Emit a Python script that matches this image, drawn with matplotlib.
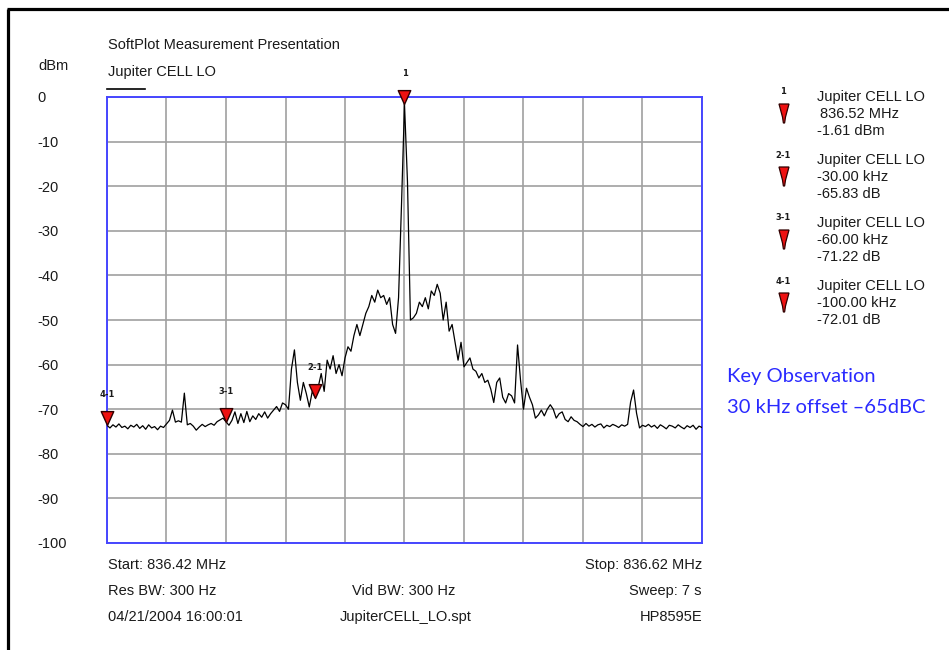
import numpy as np
import matplotlib
matplotlib.use('Agg')
import matplotlib.pyplot as plt
from matplotlib.path import Path
from matplotlib.patches import Polygon

# sweep settings
start_mhz = 836.42
stop_mhz = 836.62
center_mhz = 836.52

# trace, one point per kHz from start to stop (dBm)
trace_dbm = [
    -73.62, -74.2, -73.5, -74.0, -73.3, -74.1, -73.8, -74.4, -73.6, -74.0,
    -73.4, -74.3, -73.7, -74.5, -73.5, -74.2, -73.9, -74.6, -73.8, -74.1,
    -73.3, -72.5, -70.2, -72.9, -72.6, -72.9, -66.4, -73.5, -73.2, -73.8,
    -74.7, -74.0, -73.4, -73.9, -73.5, -73.2, -73.6, -72.8, -72.4, -72.0,
    -72.83, -73.6, -72.5, -70.6, -73.2, -71.0, -73.0, -70.5, -72.8, -71.5,
    -72.3, -71.0, -71.8, -70.6, -72.0, -71.0, -70.2, -69.4, -70.5, -68.6,
    -69.0, -70.0, -61.0, -56.7, -64.0, -68.0, -64.0, -66.5, -69.5, -66.0,
    -67.44, -65.0, -62.0, -66.0, -59.0, -61.0, -58.0, -62.0, -60.0, -62.5,
    -58.5, -56.0, -57.0, -53.5, -51.0, -53.5, -51.0, -48.5, -47.0, -44.5,
    -46.0, -43.3, -45.0, -44.5, -46.5, -45.0, -51.0, -53.0, -45.0, -24.0,
    -1.61,
    -19.0, -50.0, -49.5, -48.5, -46.0, -47.0, -45.0, -47.5, -43.5, -44.5,
    -42.0, -44.0, -50.0, -46.0, -52.5, -51.0, -55.0, -59.0, -55.0, -60.5,
    -59.5, -58.5, -61.0, -61.5, -63.0, -62.0, -64.0, -63.5, -65.5, -68.5,
    -64.0, -63.0, -67.3, -68.6, -66.5, -67.0, -68.6, -55.6, -63.5, -70.0,
    -65.3, -67.3, -69.0, -72.0, -71.3, -70.2, -71.5, -70.0, -69.0, -70.0,
    -72.0, -71.0, -70.6, -72.3, -72.8, -71.7, -72.5, -72.8, -73.4, -73.9,
    -73.2, -73.8, -73.4, -74.0, -73.5, -73.3, -74.2, -73.6, -73.9, -73.4,
    -73.7, -74.1, -73.5, -73.8, -73.4, -68.4, -65.7, -70.9, -74.2, -73.6,
    -73.9, -73.4, -74.0, -73.6, -74.3, -73.5, -73.9, -74.4, -73.6, -73.8,
    -74.2, -73.5, -74.0, -74.4, -73.7, -74.1, -73.6, -74.5, -73.8, -74.1,
]
freq_mhz = np.linspace(start_mhz, stop_mhz, len(trace_dbm))

# markers: 1 is the reference, the others are deltas from it
ref_level = -1.61
marker_names = ['1', '2-1', '3-1', '4-1']
marker_offset_khz = [0.0, -30.0, -60.0, -100.0]
marker_delta_db = [0.0, -65.83, -71.22, -72.01]

y_ticks = [0, -10, -20, -30, -40, -50, -60, -70, -80, -90, -100]

W, H = 949, 650
FONT = 'Liberation Sans'
TXT = '#1a1a1a'
BLUE = '#4646ff'

fig = plt.figure(figsize=(W / 100, H / 100), dpi=100)
fig.patch.set_facecolor('white')

ax = fig.add_axes([107 / W, (H - 543) / H, 595 / W, 446 / H])
ax.plot(freq_mhz, trace_dbm, color='black', lw=0.9, zorder=3)
ax.set_xlim(start_mhz, stop_mhz)
ax.set_ylim(-100, 0)
ax.set_xticks(np.linspace(start_mhz, stop_mhz, 11))
ax.set_xticklabels([])
ax.set_yticks(y_ticks)
ax.set_yticklabels([str(v) for v in y_ticks], fontsize=10.5, family=FONT, color=TXT)
for lab in ax.get_yticklabels():
    lab.set_horizontalalignment('left')
ax.tick_params(length=0)
ax.tick_params(axis='y', pad=50.4)
ax.grid(True, color='#a0a0a0', lw=1.2)
for sp in ax.spines.values():
    sp.set_color(BLUE)
    sp.set_linewidth(1.4)

# marker symbol on the trace: tip sits on the point
tri = Path([(-0.45, 1.0), (0.45, 1.0), (0.0, 0.0), (-0.45, 1.0)],
           [Path.MOVETO, Path.LINETO, Path.LINETO, Path.CLOSEPOLY])
for name, off, delta in zip(marker_names, marker_offset_khz, marker_delta_db):
    f = center_mhz + off / 1000.0
    lvl = ref_level + delta
    ax.plot([f], [lvl], marker=tri, ms=20, mfc='#ee1111', mec='#300000',
            mew=1.0, ls='none', clip_on=False, zorder=6)
    ax.annotate(name, (f, lvl), xytext=(0, 22), textcoords='offset points',
                ha='center', va='center', fontsize=6, fontweight='bold',
                family='DejaVu Sans', color=TXT, annotation_clip=False)

# overlay in pixel units for the text around the plot
ov = fig.add_axes([0, 0, 1, 1])
ov.set_xlim(0, W)
ov.set_ylim(H, 0)
ov.axis('off')
ov.patch.set_alpha(0)

ov.plot([8.5, 8.5], [8.5, H], color='black', lw=2.3, solid_capstyle='butt')
ov.plot([7, W], [8.5, 8.5], color='black', lw=2.3, solid_capstyle='butt')

kw = dict(fontsize=10.5, family=FONT, color=TXT, va='center')
ov.text(108, 45, 'SoftPlot Measurement Presentation', **kw)
ov.text(38, 66, 'dBm', **kw)
ov.text(108, 72, 'Jupiter CELL LO', **kw)
ov.plot([107, 145], [89, 89], color='black', lw=1.2)

ov.text(108, 565, f'Start: {start_mhz:.2f} MHz', ha='left', **kw)
ov.text(702, 565, f'Stop: {stop_mhz:.2f} MHz', ha='right', **kw)
ov.text(108, 591, 'Res BW: 300 Hz', ha='left', **kw)
ov.text(404, 591, 'Vid BW: 300 Hz', ha='center', **kw)
ov.text(702, 591, 'Sweep: 7 s', ha='right', **kw)
ov.text(108, 617, '04/21/2004 16:00:01', ha='left', **kw)
ov.text(406, 617, 'JupiterCELL_LO.spt', ha='center', **kw)
ov.text(702, 617, 'HP8595E', ha='right', **kw)

# marker table on the right
for i, (name, off, delta) in enumerate(zip(marker_names, marker_offset_khz, marker_delta_db)):
    top = 104 + 63 * i
    ov.add_patch(Polygon([(779, top), (789, top), (785.5, top + 13),
                          (784.6, top + 19), (783.4, top + 19), (782.5, top + 13)],
                         closed=True, fc='#ee1111', ec='#300000', lw=0.9))
    ov.text(783, top - 12, name, ha='center', va='center', fontsize=6,
            fontweight='bold', family='DejaVu Sans', color=TXT)
    if i == 0:
        line2 = f'{center_mhz:.2f} MHz'
        line3 = f'{ref_level:.2f} dBm'
        x2 = 820
    else:
        line2 = f'{off:.2f} kHz'
        line3 = f'{delta:.2f} dB'
        x2 = 817
    y0 = 97 + 63 * i
    ov.text(817, y0, 'Jupiter CELL LO', ha='left', **kw)
    ov.text(x2, y0 + 17, line2, ha='left', **kw)
    ov.text(817, y0 + 34, line3, ha='left', **kw)

ov.text(727, 382, 'Key Observation', color='#2a2aff', fontsize=14.5,
        family='Lato', va='baseline')
ov.text(727, 413, '30 kHz offset \u201365dBC', color='#2a2aff', fontsize=14.5,
        family='Lato', va='baseline')

fig.savefig('out.png', dpi=100)
